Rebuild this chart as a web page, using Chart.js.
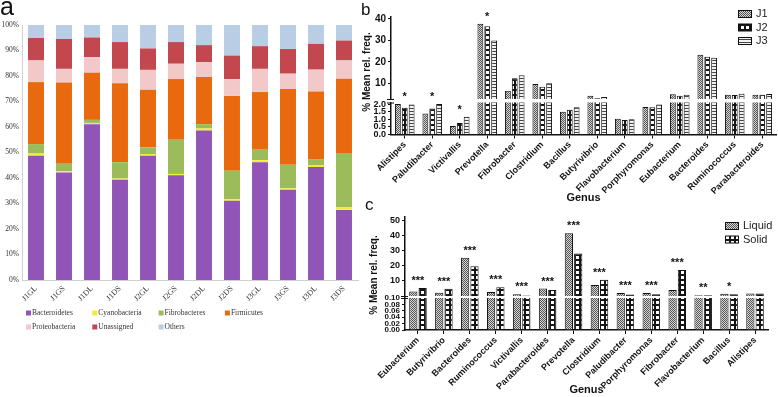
<!DOCTYPE html>
<html>
<head>
<meta charset="utf-8">
<script src="https://cdn.jsdelivr.net/npm/chart.js@4.4.0/dist/chart.umd.min.js"></script>
<style>
    html, body { margin: 0; padding: 0; background: #fff; }
    #wrap { position: relative; width: 778px; height: 397px; overflow: hidden; }
    #wrap canvas { position: absolute; left: 0; top: 0; }
    .letter { position: absolute; font-family: 'Liberation Sans', Arial, sans-serif; color: #111; line-height: 1; }
    .ytitle { position: absolute; font: bold 10px 'Liberation Sans', Arial, sans-serif; color: #111; white-space: nowrap;
              transform: translate(-50%, -50%) rotate(-90deg); }
</style>
</head>
<body>
<div id="wrap">
    <canvas id="chartA" width="778" height="397"></canvas>
    <canvas id="chartB2" width="778" height="397"></canvas>
    <canvas id="chartB1" width="778" height="397"></canvas>
    <canvas id="chartC2" width="778" height="397"></canvas>
    <canvas id="chartC1" width="778" height="397"></canvas>
    <div class="letter" style="left:0px;top:-6px;font-size:25px">a</div>
    <div class="letter" style="left:361px;top:1px;font-size:17px">b</div>
    <div class="letter" style="left:365px;top:196px;font-size:17px">c</div>
    <div class="ytitle" style="left:366px;top:72px">% Mean rel. freq.</div>
    <div class="ytitle" style="left:373px;top:275px">% Mean rel. freq.</div>
</div>
<script>
/* ================================
   PANEL A - phylum composition per sample
   ================================ */
const samples = ['J1GL', 'J1GS', 'J1DL', 'J1DS', 'J2GL', 'J2GS', 'J2DL', 'J2DS', 'J3GL', 'J3GS', 'J3DL', 'J3DS'];
const bacteroidetes  = [48.7, 42.2, 61.1, 39.3, 48.7, 41.1, 58.6, 31.1, 46.2, 35.4, 44.3, 27.5];
const cyanobacteria  = [0.9, 0.5, 0.5, 0.5, 0.7, 0.5, 0.8, 0.6, 0.8, 0.6, 0.8, 1.1];
const fibrobacteres  = [3.7, 2.9, 1.2, 6.4, 2.6, 13.4, 1.7, 11.1, 4.1, 9.2, 2.3, 21.2];
const firmicutes     = [24.3, 31.9, 18.5, 31.0, 22.6, 23.8, 18.5, 29.4, 22.6, 29.7, 26.5, 29.1];
const proteobacteria = [8.5, 5.3, 6.1, 5.6, 7.8, 6.0, 5.8, 6.6, 9.1, 6.0, 8.6, 7.2];
const unassigned     = [8.8, 11.7, 7.7, 10.5, 8.4, 8.5, 6.7, 9.2, 8.9, 9.7, 10.1, 7.8];
const others         = [5.1, 5.5, 4.9, 6.7, 9.2, 6.7, 7.9, 12.0, 8.3, 9.4, 7.4, 6.1];

const phylumNames = ['Bacteroidetes', 'Cyanobacteria', 'Fibrobacteres', 'Firmicutes', 'Proteobacteria', 'Unassigned', 'Others'];
const phylumValues = [bacteroidetes, cyanobacteria, fibrobacteres, firmicutes, proteobacteria, unassigned, others];
const phylumColors = ['#9055b6', '#f2ee38', '#9cbb5a', '#e8690e', '#f2c8c9', '#c2474f', '#b9cde5'];
const percentTicks = [0, 10, 20, 30, 40, 50, 60, 70, 80, 90, 100];

/* ================================
   PANEL B - genera by site (J1/J2/J3), broken axis
   ================================ */
const genusB = ['Alistipes', 'Paludibacter', 'Victivallis', 'Prevotella', 'Fibrobacter', 'Clostridium', 'Bacillus',
    'Butyrivibrio', 'Flavobacterium', 'Porphyromonas', 'Eubacterium', 'Bacteroides', 'Ruminococcus', 'Parabacteroides'];
const j1 = [2.0, 1.37, 0.56, 37.7, 6.5, 9.7, 1.5, 4.2, 1.04, 1.81, 4.9, 23.3, 4.7, 4.7];
const j2 = [1.76, 1.70, 0.76, 36.6, 12.3, 8.4, 1.63, 3.0, 0.95, 1.79, 4.2, 22.4, 4.5, 4.7];
const j3 = [1.97, 2.0, 1.17, 29.9, 13.7, 10.0, 1.79, 3.6, 1.0, 1.97, 4.7, 21.9, 5.1, 5.0];
const starsB = ['*', '*', '*', '*', '', '', '', '', '', '', '', '', '', ''];
const ticksUpperB = [10, 20, 30, 40];
const ticksLowerB = [0, 0.5, 1.0, 1.5, 2.0];

/* ================================
   PANEL C - genera by fraction (liquid/solid), broken axis
   ================================ */
const genusC = ['Eubacterium', 'Butyrivibrio', 'Bacteroides', 'Ruminococcus', 'Victivallis', 'Parabacteroides', 'Prevotella',
    'Clostridium', 'Paludibacter', 'Porphyromonas', 'Fibrobacter', 'Flavobacterium', 'Bacillus', 'Alistipes'];
const liquid = [3.0, 2.2, 25.2, 2.8, 1.3, 5.0, 41.4, 7.4, 2.0, 2.0, 4.1, 0.6, 1.5, 1.7];
const solid  = [5.4, 4.8, 19.6, 5.9, 0.4, 4.1, 28.1, 10.7, 1.1, 1.3, 17.2, 0.6, 1.3, 1.7];
const starsC = ['***', '***', '***', '***', '***', '***', '***', '***', '***', '***', '***', '**', '*', ''];
const ticksUpperC = [10, 20, 30, 40, 50];
const ticksLowerC = [0, 0.02, 0.04, 0.06, 0.08, 0.10];

const SANS = "'Liberation Sans', Arial, sans-serif";
const SERIF = "'Liberation Serif', 'Times New Roman', serif";

Chart.defaults.font.family = SANS;
Chart.defaults.color = '#111';
Chart.defaults.animation = false;
Chart.defaults.plugins.legend.display = false;
Chart.defaults.plugins.tooltip.enabled = false;

// Fill patterns like the original GraphPad bars
function makePattern(w, h, draw) {
    const c = document.createElement('canvas');
    c.width = w;
    c.height = h;
    const g = c.getContext('2d');
    draw(g);
    return g.createPattern(c, 'repeat');
}
const patGrey = makePattern(2, 2, g => {
    g.fillStyle = '#d6d6d6'; g.fillRect(0, 0, 2, 2);
    g.fillStyle = '#555'; g.fillRect(0, 0, 1, 1); g.fillRect(1, 1, 1, 1);
});
const patDots = makePattern(5, 5, g => {
    g.fillStyle = '#151515'; g.fillRect(0, 0, 5, 5);
    g.fillStyle = '#fff'; g.fillRect(1, 1, 3, 3);
});
const patLines = makePattern(2, 3, g => {
    g.fillStyle = '#f2f2f2'; g.fillRect(0, 0, 2, 3);
    g.fillStyle = '#444'; g.fillRect(0, 0, 2, 1);
});

// Fixed scale sizes so each panel sits where it should
function fixWidth(w) {
    return function(s) { s.width = w; s.paddingTop = 0; s.paddingBottom = 0; };
}
function fixHeight(h) {
    return function(s) { s.height = h; s.paddingLeft = 0; s.paddingRight = 0; };
}
function fixTicks(vals) {
    return function(s) { s.ticks = vals.map(v => ({ value: v })); };
}

// Legend for panel a (two rows, four columns)
const legendA = {
    id: 'legendA',
    afterDraw(chart) {
        const ctx = chart.ctx, a = chart.chartArea;
        ctx.save();
        ctx.font = '7.5px ' + SERIF;
        ctx.textBaseline = 'middle';
        chart.data.datasets.forEach((ds, i) => {
            const x = a.left + 4 + (i % 4) * 66.3;
            const y = a.bottom + 33 + Math.floor(i / 4) * 14;
            ctx.fillStyle = ds.backgroundColor;
            ctx.fillRect(x, y - 2.5, 5, 5);
            ctx.fillStyle = '#333';
            ctx.fillText(ds.label, x + 6, y);
        });
        ctx.restore();
    }
};

// Legend with patterned boxes (panels b and c)
function patternLegend(x, y, step, size) {
    return {
        id: 'patternLegend',
        afterDraw(chart) {
            const ctx = chart.ctx;
            ctx.save();
            ctx.font = size + 'px ' + SANS;
            ctx.textBaseline = 'middle';
            chart.data.datasets.forEach((ds, i) => {
                const yy = y + i * step;
                ctx.fillStyle = ds.backgroundColor;
                ctx.fillRect(x, yy - 3.5, 14, 7);
                ctx.strokeStyle = '#111';
                ctx.lineWidth = 1;
                ctx.strokeRect(x + 0.5, yy - 3.5, 13, 7);
                ctx.fillStyle = '#222';
                ctx.fillText(ds.label, x + 18, yy);
            });
            ctx.restore();
        }
    };
}

// Significance stars above each group + break marks on the y axis
function starPlugin(stars, series, lowerMax, getLower) {
    return {
        id: 'stars',
        afterDraw(chart) {
            const ctx = chart.ctx, lower = getLower();
            const xs = chart.scales.x;
            ctx.save();
            ctx.font = 'bold 11px ' + SANS;
            ctx.textAlign = 'center';
            ctx.fillStyle = '#111';
            stars.forEach((s, i) => {
                if (!s) return;
                const top = Math.max(...series.map(arr => arr[i]));
                const y = top > lowerMax
                    ? chart.scales.y.getPixelForValue(top)
                    : lower.scales.y.getPixelForValue(top);
                ctx.fillText(s, xs.getPixelForValue(i), y - 4);
            });
            // break marks
            const ax = chart.chartArea.left;
            ctx.strokeStyle = '#111';
            ctx.lineWidth = 1;
            [chart.chartArea.bottom, lower.chartArea.top].forEach(yb => {
                ctx.beginPath();
                ctx.moveTo(ax - 4, yb + 0.5);
                ctx.lineTo(ax + 3, yb + 0.5);
                ctx.stroke();
            });
            ctx.restore();
        }
    };
}

// Panel a
new Chart(document.getElementById('chartA'), {
    type: 'bar',
    data: {
        labels: samples,
        datasets: phylumNames.map((name, i) => ({
            label: name,
            data: phylumValues[i],
            backgroundColor: phylumColors[i],
            barPercentage: 0.57,
            categoryPercentage: 1
        }))
    },
    options: {
        responsive: false,
        layout: { padding: { left: 0, top: 25, right: 420, bottom: 87 } },
        scales: {
            x: {
                stacked: true,
                grid: { display: false, drawTicks: false },
                border: { color: '#cfcfd6' },
                ticks: { minRotation: 45, maxRotation: 45, autoSkip: false, padding: 4,
                         color: '#333', font: { family: SERIF, size: 8 } },
                afterFit: fixHeight(30)
            },
            y: {
                stacked: true,
                min: 0,
                max: 100,
                afterBuildTicks: fixTicks(percentTicks),
                grid: { display: false, drawTicks: false },
                border: { color: '#d2d2d2' },
                ticks: { padding: 3, color: '#333', font: { family: SERIF, size: 7.5 },
                         callback: v => v + '%' },
                afterFit: fixWidth(22)
            }
        }
    },
    plugins: [legendA]
});

// Panels b and c share the same bar styling
function barSets(names, values, fills) {
    return names.map((name, i) => ({
        label: name,
        data: values[i],
        backgroundColor: fills[i],
        borderColor: '#111',
        borderWidth: 1,
        clip: 0
    }));
}

function yAxis(min, max, ticks, width, size, digits) {
    return {
        min: min,
        max: max,
        afterBuildTicks: fixTicks(ticks),
        afterFit: fixWidth(width),
        grid: { drawOnChartArea: false, tickLength: 3, color: '#111' },
        border: { color: '#111', width: 1.5 },
        ticks: { padding: 2, autoSkip: false, font: { size: size, weight: 'bold' },
                 callback: v => Number(v).toFixed(digits) }
    };
}

function xAxis(height, titlePad) {
    return {
        grid: { offset: false, drawOnChartArea: false, tickLength: 4, color: '#111' },
        border: { color: '#111', width: 1.5 },
        ticks: { minRotation: 45, maxRotation: 45, autoSkip: false, padding: 1,
                 font: { size: 9, weight: 'bold' } },
        title: { display: true, text: 'Genus', font: { size: 11, weight: 'bold' },
                 padding: { top: 0, bottom: titlePad } },
        afterFit: fixHeight(height)
    };
}

// Panel b
const lowerB = new Chart(document.getElementById('chartB2'), {
    type: 'bar',
    data: { labels: genusB, datasets: barSets(['J1', 'J2', 'J3'], [j1, j2, j3], [patGrey, patDots, patLines]) },
    options: {
        responsive: false,
        categoryPercentage: 0.75,
        barPercentage: 0.85,
        layout: { padding: { left: 340, top: 102.5, right: 2, bottom: 188.5 } },
        scales: {
            x: xAxis(74, 4),
            y: yAxis(0, 2.1, ticksLowerB, 51, 9, 1)
        }
    }
});

new Chart(document.getElementById('chartB1'), {
    type: 'bar',
    data: { labels: genusB, datasets: barSets(['J1', 'J2', 'J3'], [j1, j2, j3], [patGrey, patDots, patLines]) },
    options: {
        responsive: false,
        categoryPercentage: 0.75,
        barPercentage: 0.85,
        layout: { padding: { left: 340, top: 17, right: 2, bottom: 298 } },
        scales: {
            x: { display: false },
            y: yAxis(2.66, 40.9, ticksUpperB, 51, 10, 0)
        }
    },
    plugins: [starPlugin(starsB, [j1, j2, j3], 2.1, () => lowerB), patternLegend(738, 14, 13.5, 11)]
});

// Panel c
const lowerC = new Chart(document.getElementById('chartC2'), {
    type: 'bar',
    data: { labels: genusC, datasets: barSets(['Liquid', 'Solid'], [liquid, solid], [patGrey, patDots]) },
    options: {
        responsive: false,
        categoryPercentage: 0.72,
        barPercentage: 0.88,
        layout: { padding: { left: 340, top: 298, right: 10, bottom: 0 } },
        scales: {
            x: xAxis(67, 0),
            y: yAxis(0, 0.1, ticksLowerC, 65, 8, 2)
        }
    }
});

new Chart(document.getElementById('chartC1'), {
    type: 'bar',
    data: { labels: genusC, datasets: barSets(['Liquid', 'Solid'], [liquid, solid], [patGrey, patDots]) },
    options: {
        responsive: false,
        categoryPercentage: 0.72,
        barPercentage: 0.88,
        layout: { padding: { left: 340, top: 217, right: 10, bottom: 101 } },
        scales: {
            x: { display: false },
            y: yAxis(0.1, 52, ticksUpperC, 65, 9, 0)
        }
    },
    plugins: [starPlugin(starsC, [liquid, solid], 0.1, () => lowerC), patternLegend(725, 226, 13.5, 11)]
});
</script>
</body>
</html>
